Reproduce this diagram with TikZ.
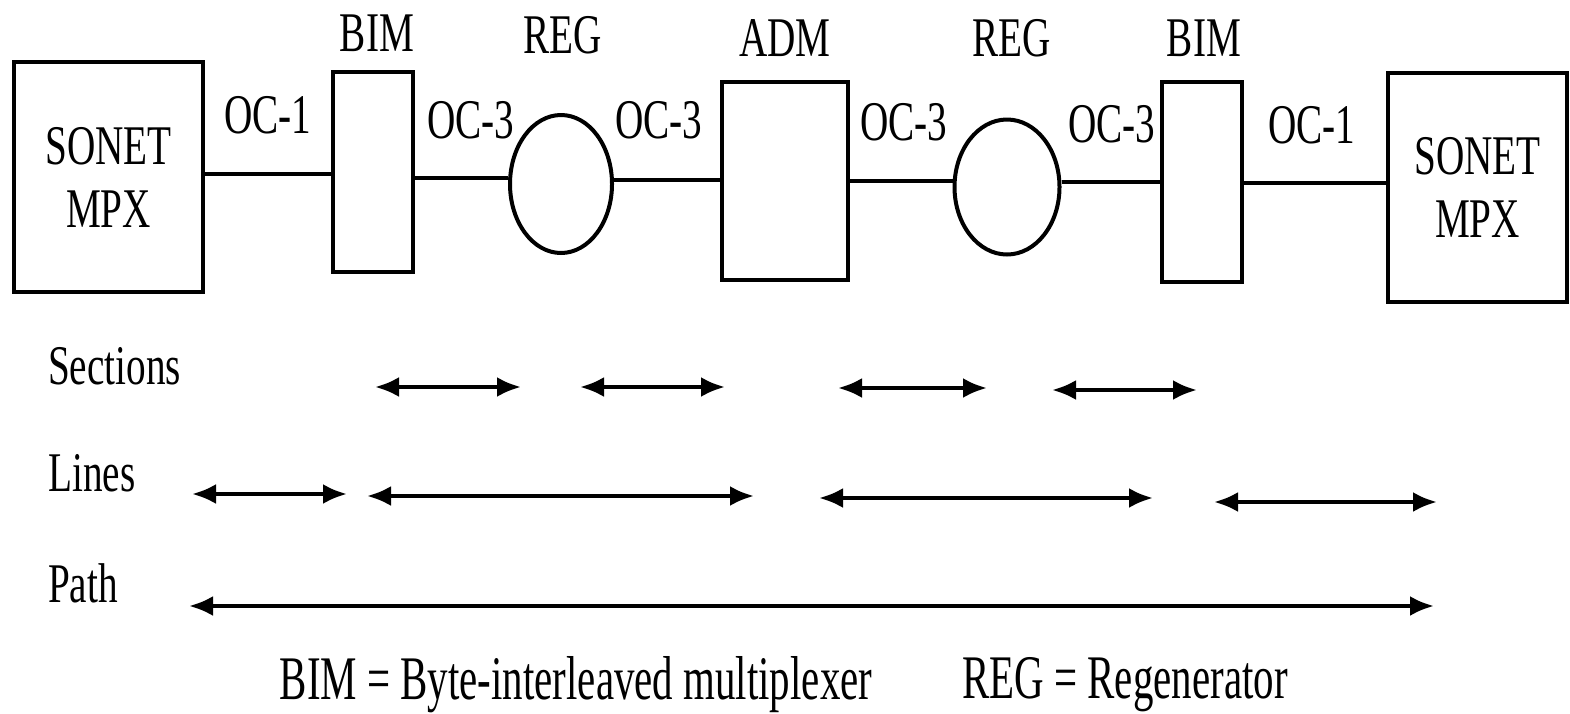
\documentclass[tikz,border=0pt]{standalone}
\usepackage{fontspec}
\setmainfont{Liberation Serif}[FakeStretch=0.7]
\newfontfamily\capfont{Liberation Serif}[FakeStretch=0.66]
\usetikzlibrary{arrows.meta,shapes.geometric}
\tikzset{
  box/.style={draw, line width=4pt, inner sep=0pt},
  regnode/.style={draw, ellipse, line width=4pt, inner sep=0pt},
  lbl/.style={font=\fontsize{56}{63}\selectfont, inner sep=0pt, align=center},
  rowlbl/.style={font=\fontsize{56}{63}\selectfont, inner sep=0pt, anchor=west},
  caplbl/.style={font=\capfont\fontsize{62}{66}\selectfont, inner sep=0pt},
  conn/.style={line width=4pt},
  span/.style={line width=4pt, {Latex[length=24pt,width=20pt]}-{Latex[length=24pt,width=20pt]}}
}
\begin{document}
\begin{tikzpicture}[x=1pt,y=-1pt]
\useasboundingbox (0,0) rectangle (1570,713);
% devices
\node[box, lbl, minimum width=189pt, minimum height=230pt] (smpx1) at (108.5,177) {SONET\\MPX};
\node[box, minimum width=80pt, minimum height=200pt] (bim1) at (373,172) {};
\node[regnode, minimum width=102pt, minimum height=138pt] (reg1) at (561,184) {};
\node[box, minimum width=126pt, minimum height=198pt] (adm) at (785,181) {};
\node[regnode, minimum width=105pt, minimum height=135pt] (reg2) at (1007,187) {};
\node[box, minimum width=80pt, minimum height=200pt] (bim2) at (1202,182) {};
\node[box, lbl, minimum width=179pt, minimum height=229pt] (smpx2) at (1477.5,187.5) {SONET\\MPX};
% device names
\node[lbl] (tbim1) at (377,33) {BIM};
\node[lbl] (treg1) at (563,35) {REG};
\node[lbl] (tadm) at (785,38) {ADM};
\node[lbl] (treg2) at (1012,38) {REG};
\node[lbl] (tbim2) at (1204,38) {BIM};
% links
\draw[conn] (smpx1.east |- 0,174) -- (bim1.west |- 0,174);
\draw[conn] (bim1.east |- 0,178) -- (reg1.west |- 0,178);
\draw[conn] (reg1.east |- 0,180) -- (adm.west |- 0,180);
\draw[conn] (adm.east |- 0,181) -- (reg2.west |- 0,181);
\draw[conn] (reg2.east |- 0,182) -- (bim2.west |- 0,182);
\draw[conn] (bim2.east |- 0,183) -- (smpx2.west |- 0,183);
% link labels
\node[lbl] (oc1a) at (268,115) {OC-1};
\node[lbl] (oc3a) at (471,120) {OC-3};
\node[lbl] (oc3b) at (659,120) {OC-3};
\node[lbl] (oc3c) at (904,122) {OC-3};
\node[lbl] (oc3d) at (1112,124) {OC-3};
\node[lbl] (oc1b) at (1312,125) {OC-1};
% rows
\node[rowlbl] (rsec) at (48,366) {Sections};
\node[rowlbl] (rlin) at (48,473) {Lines};
\node[rowlbl] (rpath) at (48,583) {Path};
% section spans
\coordinate (s1a) at (375,387); \coordinate (s1b) at (521,387);
\coordinate (s2a) at (580,387); \coordinate (s2b) at (725,387);
\coordinate (s3a) at (838,388); \coordinate (s3b) at (987,388);
\coordinate (s4a) at (1052,390); \coordinate (s4b) at (1197,390);
\draw[span] (s1a) -- (s1b);
\draw[span] (s2a) -- (s2b);
\draw[span] (s3a) -- (s3b);
\draw[span] (s4a) -- (s4b);
% line spans
\coordinate (l1a) at (192,494); \coordinate (l1b) at (347,494);
\coordinate (l2a) at (367,496); \coordinate (l2b) at (754,496);
\coordinate (l3a) at (819,498); \coordinate (l3b) at (1153,498);
\coordinate (l4a) at (1214,502); \coordinate (l4b) at (1437,502);
\draw[span] (l1a) -- (l1b);
\draw[span] (l2a) -- (l2b);
\draw[span] (l3a) -- (l3b);
\draw[span] (l4a) -- (l4b);
% path span
\coordinate (p1a) at (189,606); \coordinate (p1b) at (1434,606);
\draw[span] (p1a) -- (p1b);
% legend
\node[caplbl] (legbim) at (576,685) {BIM = Byte-interleaved multiplexer};
\node[caplbl] (legreg) at (1125,685) {REG = Regenerator};
\end{tikzpicture}
\end{document}
